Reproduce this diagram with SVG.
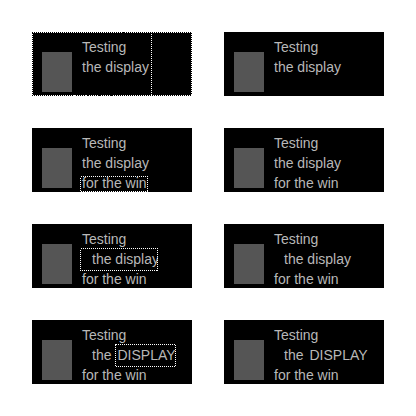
<svg xmlns="http://www.w3.org/2000/svg" width="416" height="416" viewBox="0 0 416 416">
<style>
.bg{fill:#000}
.ph{fill:#555}
.t{font-family:"Liberation Sans",Arial,sans-serif;font-size:14px;fill:#b8b8b8}
.focus{fill:none;stroke:#fff;stroke-width:1;stroke-dasharray:1 1;shape-rendering:crispEdges}
</style>
<defs>
<clipPath id="c3"><rect x="80" y="248" width="78" height="24"/></clipPath>
</defs>
<rect width="416" height="416" fill="#fff"/>
<g id="n1">
<rect class="bg" x="32" y="32" width="160" height="64"/>
<rect class="ph" x="42" y="52" width="30" height="40"/>
<text class="t" x="82" y="52">Testing</text>
<text class="t" x="82" y="72">the display</text>
<rect class="focus" x="32.5" y="32.5" width="159" height="63"/>
<line class="focus" x1="151.5" y1="32" x2="151.5" y2="96"/>
</g>
<g id="n2">
<rect class="bg" x="224" y="32" width="160" height="64"/>
<rect class="ph" x="234" y="52" width="30" height="40"/>
<text class="t" x="274" y="52">Testing</text>
<text class="t" x="274" y="72">the display</text>
</g>
<g id="n3">
<rect class="bg" x="32" y="128" width="160" height="64"/>
<rect class="ph" x="42" y="148" width="30" height="40"/>
<text class="t" x="82" y="148">Testing</text>
<text class="t" x="82" y="168">the display</text>
<text class="t" x="82" y="188">for the win</text>
<rect class="focus" x="80.5" y="176.5" width="67" height="15"/>
</g>
<g id="n4">
<rect class="bg" x="224" y="128" width="160" height="64"/>
<rect class="ph" x="234" y="148" width="30" height="40"/>
<text class="t" x="274" y="148">Testing</text>
<text class="t" x="274" y="168">the display</text>
<text class="t" x="274" y="188">for the win</text>
</g>
<g id="n5">
<rect class="bg" x="32" y="224" width="160" height="64"/>
<rect class="ph" x="42" y="244" width="30" height="40"/>
<text class="t" x="82" y="244">Testing</text>
<text class="t" x="92" y="264" clip-path="url(#c3)">the display</text>
<text class="t" x="82" y="284">for the win</text>
<rect class="focus" x="80.5" y="248.5" width="77" height="22"/>
</g>
<g id="n6">
<rect class="bg" x="224" y="224" width="160" height="64"/>
<rect class="ph" x="234" y="244" width="30" height="40"/>
<text class="t" x="274" y="244">Testing</text>
<text class="t" x="284" y="264">the display</text>
<text class="t" x="274" y="284">for the win</text>
</g>
<g id="n7">
<rect class="bg" x="32" y="320" width="160" height="64"/>
<rect class="ph" x="42" y="340" width="30" height="40"/>
<text class="t" x="82" y="340">Testing</text>
<text class="t" x="92" y="360">the</text>
<text class="t" x="117.5" y="360">DISPLAY</text>
<text class="t" x="82" y="380">for the win</text>
<rect class="focus" x="115.5" y="344.5" width="59.5" height="22"/>
</g>
<g id="n8">
<rect class="bg" x="224" y="320" width="160" height="64"/>
<rect class="ph" x="234" y="340" width="30" height="40"/>
<text class="t" x="274" y="340">Testing</text>
<text class="t" x="284" y="360">the</text>
<text class="t" x="309.5" y="360">DISPLAY</text>
<text class="t" x="274" y="380">for the win</text>
</g>
<g id="connectors"></g>
</svg>
